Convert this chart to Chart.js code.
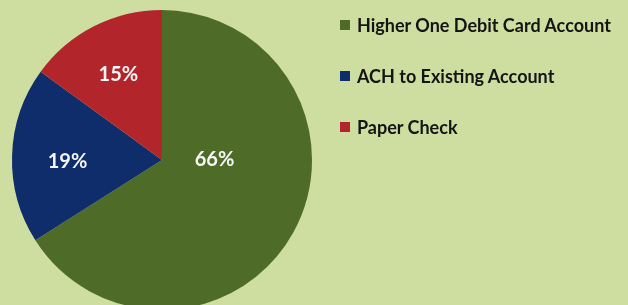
<!DOCTYPE html>
<html>
<head>
<meta charset="utf-8">
<script src="https://cdn.jsdelivr.net/npm/chart.js@4/dist/chart.umd.min.js"></script>
<style>
  html, body { margin: 0; padding: 0; background: #cddea0; overflow: hidden; width: 628px; height: 305px; }
  #wrap { position: relative; width: 628px; height: 305px; }
  canvas { display: block; position: absolute; left: 0; top: 0; }
  #legend { position: absolute; left: 340px; top: 0; font: bold 18px Lato, "Open Sans", sans-serif; color: #141414; }
  .item { position: absolute; left: 0; white-space: nowrap; height: 22px; line-height: 22px; }
  .box { position: absolute; left: 0; top: 6px; width: 10px; height: 10px; }
  .txt { position: absolute; left: 17px; top: 0; }
</style>
</head>
<body>
<div id="wrap">
<canvas id="c" width="628" height="320"></canvas>
<div id="legend"></div>
</div>
<script>
const categories = ["Higher One Debit Card Account", "ACH to Existing Account", "Paper Check"];
const shares = [66, 19, 15];
const sliceColors = ["#4f6b28", "#0f2d6b", "#b2262b"];

// label placement: [radius fraction, angle shift in degrees from slice bisector]
const labelPlacement = [[0.35, -28.8], [0.63, -2.5], [0.64, 0]];

const pieLabels = {
  id: 'pieLabels',
  afterDatasetsDraw(chart) {
    const ctx = chart.ctx;
    const meta = chart.getDatasetMeta(0);
    ctx.save();
    ctx.fillStyle = '#f6f6f6';
    ctx.font = 'bold 20px Lato, "Open Sans", sans-serif';
    ctx.textAlign = 'center';
    ctx.textBaseline = 'middle';
    meta.data.forEach((arc, i) => {
      const p = arc.getProps(['x', 'y', 'startAngle', 'endAngle', 'outerRadius'], true);
      const [f, shift] = labelPlacement[i];
      const a = (p.startAngle + p.endAngle) / 2 + shift * Math.PI / 180;
      const r = p.outerRadius * f;
      ctx.fillText(shares[i] + '%', p.x + Math.cos(a) * r, p.y + Math.sin(a) * r);
    });
    ctx.restore();
  }
};

const chart = new Chart(document.getElementById('c'), {
  type: 'pie',
  data: {
    labels: categories,
    datasets: [{ data: shares, backgroundColor: sliceColors, borderWidth: 0 }]
  },
  options: {
    responsive: false,
    animation: false,
    layout: { padding: { left: 12, top: 10, bottom: 10, right: 316 } },
    plugins: {
      tooltip: { enabled: false },
      legend: { display: false }
    }
  },
  plugins: [pieLabels]
});

// legend built from the chart's own labels and colours
const legendEl = document.getElementById('legend');
chart.data.labels.forEach((lab, i) => {
  const item = document.createElement('div');
  item.className = 'item';
  item.style.top = (14 + i * 51) + 'px';
  const box = document.createElement('span');
  box.className = 'box';
  box.style.background = chart.data.datasets[0].backgroundColor[i];
  const t = document.createElement('span');
  t.className = 'txt';
  t.textContent = lab;
  item.appendChild(box);
  item.appendChild(t);
  legendEl.appendChild(item);
});
</script>
</body>
</html>
